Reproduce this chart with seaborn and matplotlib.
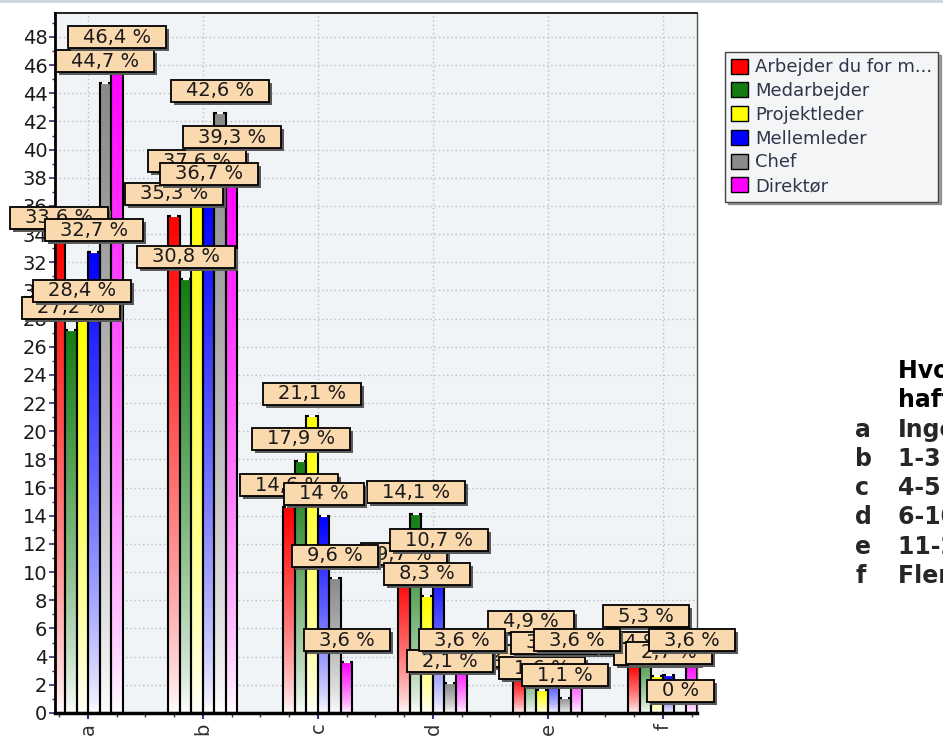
import numpy as np
import pandas as pd
import matplotlib
matplotlib.use('Agg')
import matplotlib.pyplot as plt
import seaborn as sns
from matplotlib.patches import Rectangle, Patch
from matplotlib.transforms import IdentityTransform
from matplotlib.ticker import MultipleLocator
from matplotlib.colors import to_rgb

# data (percent)
categories = ['a', 'b', 'c', 'd', 'e', 'f']
series = ['Arbejder du for m...', 'Medarbejder', 'Projektleder', 'Mellemleder', 'Chef', 'Direktør']
colors = ['#ff0000', '#137c13', '#ffff00', '#0000ff', '#8a8a8a', '#ff00ff']

arbejder = [33.6, 35.3, 14.6, 9.7, 2.5, 3.4]
medarbejder = [27.2, 30.8, 17.9, 14.1, 4.9, 5.3]
projektleder = [28.4, 37.6, 21.1, 8.3, 1.6, 2.6]
mellemleder = [32.7, 36.7, 14.0, 10.7, 3.4, 2.7]
chef = [44.7, 42.6, 9.6, 2.1, 1.1, 0.0]
direktor = [46.4, 39.3, 3.6, 3.6, 3.6, 3.6]

question = ['Hvor mange år har du', 'haft personaleansvar?']
answers = ['Ingen', '1-3 år', '4-5 år', '6-10 år', '11-20 år', 'Flere end 20 år']

values = [arbejder, medarbejder, projektleder, mellemleder, chef, direktor]
rows = []
for s, vals in zip(series, values):
    for c, v in zip(categories, vals):
        rows.append({'kategori': c, 'serie': s, 'procent': v})
df = pd.DataFrame(rows)


def fmt(v):
    if float(v).is_integer():
        return f'{int(v)} %'
    return f'{v:.1f}'.replace('.', ',') + ' %'


sns.set_style('white')
plt.rcParams['font.family'] = ['DejaVu Sans']

W, H = 943, 738
fig = plt.figure(figsize=(W / 100, H / 100), dpi=100)
ax = fig.add_axes([55 / W, 1 - 713 / H, (697 - 55) / W, (713 - 13) / H])
ax.set_facecolor('#f1f4f6')

sns.barplot(data=df, x='kategori', y='procent', hue='serie', order=categories,
            hue_order=series, palette=colors, saturation=1, width=0.6,
            edgecolor='black', linewidth=1.5, legend=False, ax=ax)

# gradient fill: full colour at the top, fading to white at the base
t = np.linspace(0, 1, 256)[:, None]
labels = []
for i, cont in enumerate(ax.containers):
    rgb = np.array(to_rgb(colors[i]))
    img = 1 + (rgb - 1) * (t ** 0.75)[..., None]
    for bar in cont:
        x0, w, h = bar.get_x(), bar.get_width(), bar.get_height()
        xc = x0 + w / 2
        if h > 0:
            im = ax.imshow(img, extent=[x0, x0 + w, 0, h], origin='lower',
                           aspect='auto', zorder=0.9, interpolation='bilinear')
            im.set_clip_path(bar)
        bar.set_facecolor('none')
        bar.set_zorder(1)
        ax.plot([xc], [h], marker='_', color='white', ms=5, mew=1.6, zorder=2)
        txt = ax.annotate(fmt(h), (xc, h), xytext=(0, 16), textcoords='offset points',
                          ha='center', va='center', fontsize=14, color='#1a1a1a',
                          annotation_clip=False)
        labels.append(txt)

ax.set_xlim(-0.287, 5.296)
ax.set_ylim(0, 49.7)
ax.set_xlabel('')
ax.set_ylabel('')
ax.yaxis.set_major_locator(MultipleLocator(2))
ax.yaxis.set_minor_locator(MultipleLocator(1))
ax.xaxis.set_minor_locator(MultipleLocator(0.25))
ax.set_axisbelow(True)
ax.grid(True, which='major', linestyle=(0, (1, 2)), color='#b9bfc5', linewidth=1)

ax.tick_params(axis='y', which='major', length=4, width=1.2, color='#3a2a66',
               labelsize=14, labelcolor='#1a1a1a', pad=1.5, direction='out', left=True)
ax.tick_params(axis='y', which='minor', length=2.5, width=1, color='#3a2a66', left=True)
ax.tick_params(axis='x', which='major', length=4, width=1.5, color='#4b2d8c',
               labelsize=14, labelcolor='#333333', pad=3, direction='out', bottom=True,
               labelrotation=90)
ax.tick_params(axis='x', which='minor', length=3, width=1, color='#333333', bottom=True)

ax.spines['left'].set_linewidth(2)
ax.spines['bottom'].set_linewidth(2.5)
ax.spines['top'].set_linewidth(1.2)
ax.spines['right'].set_linewidth(1)
ax.spines['right'].set_color('#555555')
for sp in ['left', 'bottom', 'top']:
    ax.spines[sp].set_color('black')

# legend
handles = [Patch(facecolor=c, edgecolor='black', linewidth=1) for c in colors]
fig.legend(handles, series, loc='upper left', bbox_to_anchor=(725 / W, 1 - 52 / H),
           bbox_transform=fig.transFigure, frameon=True, fancybox=False, shadow=True,
           edgecolor='#444444', facecolor='#f3f5f7', framealpha=1, fontsize=13,
           labelcolor='#33334a', handlelength=0.9, handleheight=0.9, handletextpad=0.4,
           labelspacing=0.32, borderpad=0.35, borderaxespad=0)

# question text on the right (runs off the edge like the original)
y0, step = 378, 29.3
for k, line in enumerate(question):
    fig.text(898 / W, 1 - (y0 + k * step) / H, line, fontsize=17, fontweight='bold',
             va='baseline', ha='left', color='black')
for k, (c, a) in enumerate(zip(categories, answers)):
    yy = 1 - (y0 + (k + 2) * step) / H
    fig.text(855 / W, yy, c, fontsize=17, fontweight='bold', va='baseline', ha='left')
    fig.text(898 / W, yy, a, fontsize=17, fontweight='bold', va='baseline', ha='left')

# thin strip at the top of the window
fig.add_artist(Rectangle((0, 1 - 3 / H), 1, 3 / H, transform=fig.transFigure,
                         facecolor='#cfd7de', edgecolor='none'))

# label boxes sized from the rendered text, with a drop shadow
fig.canvas.draw()
renderer = fig.canvas.get_renderer()
for n, txt in enumerate(labels):
    bb = txt.get_window_extent(renderer)
    px, py = 15, 1.5
    z = 3 + n * 0.01
    shadow = Rectangle((bb.x0 - px + 3, bb.y0 - py - 3), bb.width + 2 * px, bb.height + 2 * py,
                       transform=IdentityTransform(), facecolor='#5a5a5a', edgecolor='none',
                       zorder=z)
    box = Rectangle((bb.x0 - px, bb.y0 - py), bb.width + 2 * px, bb.height + 2 * py,
                    transform=IdentityTransform(), facecolor='#fad9ae', edgecolor='black',
                    linewidth=1.3, zorder=z + 0.003)
    for r in (shadow, box):
        ax.add_artist(r)
        r.set_clip_on(False)
    txt.set_zorder(z + 0.006)

fig.savefig('out.png', dpi=100)
